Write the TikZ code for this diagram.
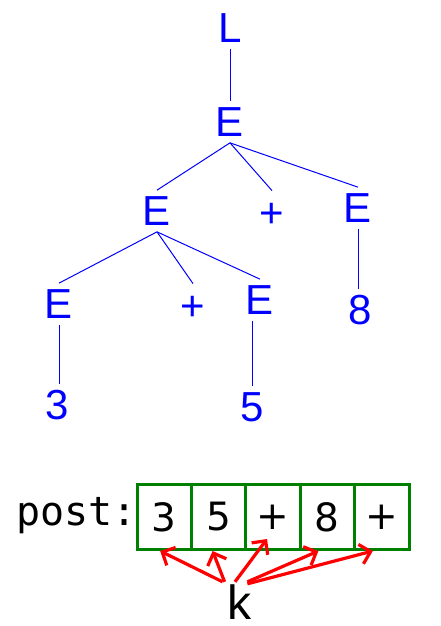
\documentclass[tikz,border=0pt]{standalone}
\usepackage{fontspec}
\setmainfont{Liberation Sans}
\newfontfamily\monofont{DejaVu Sans Mono}
\newfontfamily\casefont{DejaVu Sans}
\usetikzlibrary{arrows.meta}
\begin{document}
\begin{tikzpicture}[x=0.5pt,y=-0.5pt]
% Styles
\tikzstyle{symb}=[text=blue,font=\fontsize{21}{21}\selectfont,inner sep=3pt]
\tikzstyle{signe}=[text=blue,font=\fontsize{21}{21}\selectfont,minimum height=24pt,inner sep=0pt]
\tikzstyle{arete}=[blue,line width=0.5pt]
\tikzstyle{case}=[draw=green!50!black,line width=1.5pt,minimum width=27.2pt,minimum height=32.5pt,inner sep=0pt,font=\casefont\fontsize{19.5}{19.5}\selectfont]
\tikzstyle{fleche}=[-{Straight Barb[length=5pt,width=10pt]},red,line width=1.6pt]
% Dimensions
\def\Pas{54.4}
\def\Gauche{164.2}
\def\Ligne{517}
% Cadre
\useasboundingbox (0,0) rectangle (440,626);
% Arbre : noeuds
\node[symb] (l) at (230,28) {L};
\node[symb] (e1) at (230,122) {E};
\node[symb] (e2) at (157,211) {E};
\node[signe] (p1) at (272,215) {+};
\node[symb] (e3) at (358,208) {E};
\node[symb] (e4) at (59,304) {E};
\node[signe] (p2) at (193,308) {+};
\node[symb] (e5) at (260,300) {E};
\node[symb] (n3) at (57,405) {3};
\node[symb] (n5) at (252,407) {5};
\node[symb] (n8) at (360,310) {8};
% Arbre : aretes
\draw[arete] (l.south) -- (l.south |- e1.north);
\draw[arete] (e1.south) -- (e2.north);
\draw[arete] (e1.south) -- (p1.north);
\draw[arete] (e1.south) -- (e3.north);
\draw[arete] (e2.south) -- (e4.north);
\draw[arete] (e2.south) -- (p2.north);
\draw[arete] (e2.south) -- (e5.north);
\draw[arete] (e4.south) -- (e4.south |- n3.north);
\draw[arete] ([xshift=-4pt]e5.south) -- ([xshift=-4pt]e5.south |- n5.north);
\draw[arete] (e3.south) -- (e3.south |- n8.north);
% Tableau post
\node[anchor=base east,inner sep=0pt,font=\monofont\fontsize{20}{20}\selectfont] (post) at (137,525) {post:};
\foreach \v [count=\i] in {3,5,+,8,+}
  \node[case] (c\i) at ({\Gauche+\Pas*(\i-1)},\Ligne) {\v};
% Indice k
\node[anchor=base,inner sep=1pt,font=\fontsize{24}{24}\selectfont] (k) at (239,619) {k};
\draw[fleche] ([xshift=-1pt]k.north west) -- ([xshift=-2pt]c1.south);
\draw[fleche] (k.north west) -- ([xshift=-3pt]c2.south);
\draw[fleche] ([xshift=-2pt]k.north) -- ([xshift=-3pt,yshift=6pt]c3.south);
\draw[fleche] ([xshift=-3pt]k.north east) -- ([xshift=-4.5pt]c4.south);
\draw[fleche] ([xshift=-3pt,yshift=-1pt]k.north east) -- ([xshift=-4.5pt]c5.south);
\end{tikzpicture}
\end{document}
